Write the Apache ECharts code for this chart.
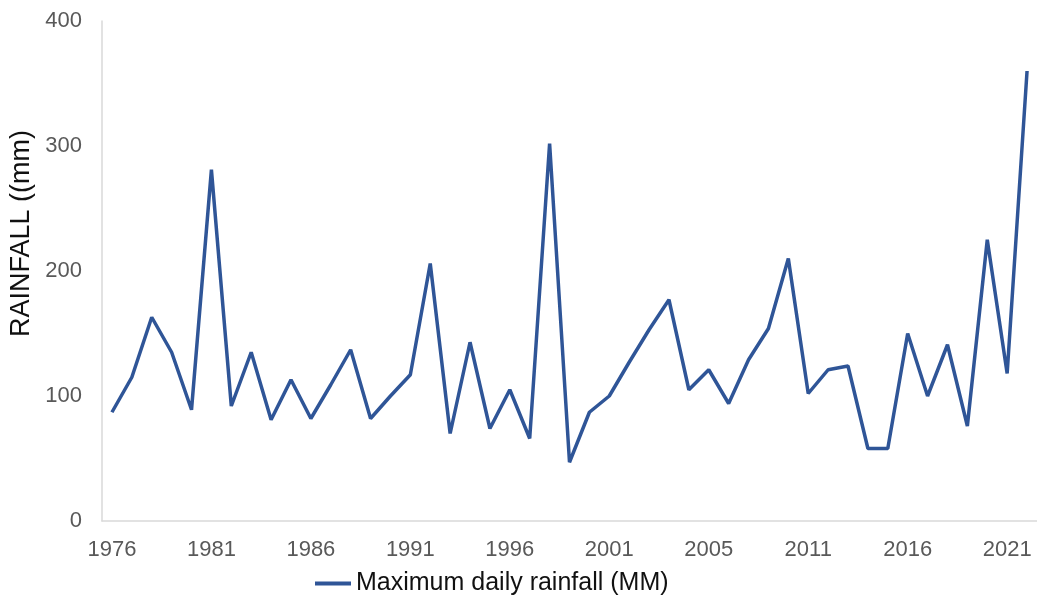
<!DOCTYPE html>
<html>
<head>
<meta charset="utf-8">
<script src="https://cdn.jsdelivr.net/npm/echarts@6/dist/echarts.min.js"></script>
<style>
  html, body { margin: 0; padding: 0; background: #fff; }
  #chart { width: 1037px; height: 605px; }
</style>
</head>
<body>
<div id="chart"></div>
<script>
// Years of record, 1976 to 2022
const years = [
  '1976','1977','1978','1979','1980','1981','1982','1983','1984','1985',
  '1986','1987','1988','1989','1990','1991','1992','1993','1994','1995',
  '1996','1997','1998','1999','2000','2001','2002','2003','2004','2005',
  '2006','2007','2008','2009','2010','2011','2012','2013','2014','2015',
  '2016','2017','2018','2019','2020','2021','2022'
];

// Maximum daily rainfall per year (mm)
const maxDailyRainfall = [
  87, 115, 163, 135, 89, 281, 92, 135, 81, 113,
  82, 109, 137, 82, 100, 117, 206, 70, 143, 74,
  105, 66, 302, 47, 87, 100, 127, 153, 177, 105,
  121, 94, 129, 154, 210, 102, 121, 124, 58, 58,
  150, 100, 141, 76, 225, 118, 360
];

// Labels printed under every fifth year
const xTickLabels = ['1976','1981','1986','1991','1996','2001','2005','2011','2016','2021'];
const yTicks = [0, 100, 200, 300, 400];

const chart = echarts.init(document.getElementById('chart'));
chart.setOption({
  backgroundColor: '#ffffff',
  animation: false,
  grid: { left: 102, right: -2, top: 21, bottom: 84 },
  legend: {
    left: 310,
    top: 566,
    itemWidth: 36,
    itemHeight: 4,
    itemGap: 10,
    icon: 'rect',
    textStyle: { fontFamily: 'Liberation Sans, Arial, sans-serif', fontSize: 25, color: '#111' },
    data: ['Maximum daily rainfall (MM)']
  },
  graphic: [{
    type: 'text',
    left: 8,
    top: 130,
    rotation: Math.PI / 2,
    style: {
      text: 'RAINFALL ((mm)',
      font: '27px "Liberation Sans", Arial, sans-serif',
      fill: '#111'
    }
  }],
  xAxis: {
    type: 'category',
    data: years,
    boundaryGap: true,
    axisLine: { lineStyle: { color: '#d9d9d9', width: 1.5 } },
    axisTick: { show: false },
    axisLabel: {
      interval: 4,
      margin: 18,
      color: '#595959',
      fontFamily: 'Liberation Sans, Arial, sans-serif',
      fontSize: 22,
      formatter: (v, i) => xTickLabels[Math.round(i / 5)]
    },
    splitLine: { show: false }
  },
  yAxis: {
    type: 'value',
    min: yTicks[0],
    max: yTicks[yTicks.length - 1],
    interval: 100,
    axisLine: { show: true, lineStyle: { color: '#d9d9d9', width: 1.5 } },
    axisTick: { show: false },
    axisLabel: {
      margin: 20,
      color: '#595959',
      fontFamily: 'Liberation Sans, Arial, sans-serif',
      fontSize: 22
    },
    splitLine: { show: false }
  },
  series: [{
    name: 'Maximum daily rainfall (MM)',
    type: 'line',
    data: maxDailyRainfall,
    showSymbol: false,
    symbol: 'none',
    lineStyle: { color: '#2f5597', width: 3.5 },
    itemStyle: { color: '#2f5597' }
  }]
});
</script>
</body>
</html>
